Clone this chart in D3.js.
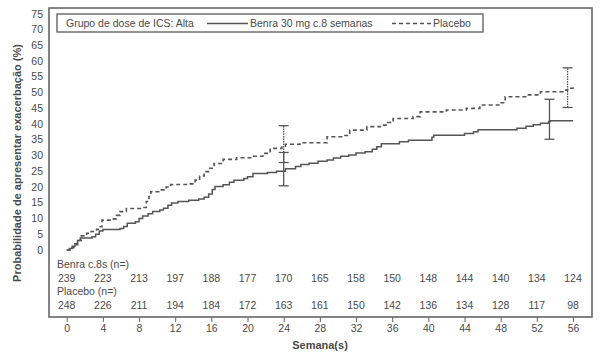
<!DOCTYPE html>
<html>
<head>
<meta charset="utf-8">
<style>
  body { margin: 0; background: #fff; }
  text { font-family: "Liberation Sans", Arial, sans-serif; fill: #4a4a4a; }
</style>
</head>
<body>
<div id="chart"></div>
<script src="https://cdn.jsdelivr.net/npm/d3@7"></script>
<script>

// Kaplan-Meier steps: [week, percent]
let benra_steps = [[0,0],[0.3,0.5],[0.6,1.2],[0.9,2],[1.2,3],[1.5,3.8],[2.8,4.2],[3.2,5],[3.6,6],[4,6.5],
  [5.9,6.8],[6.3,7.5],[6.7,8.5],[7.6,9],[8,10],[8.4,10.8],[9,11.5],[9.5,12.2],[10.3,12.7],[10.7,13.3],
  [11.2,14.2],[11.6,14.9],[12.3,15.4],[13.5,15.8],[14.6,16.2],[15.2,16.8],[15.7,17.8],[16.1,19.2],[16.4,20.2],
  [17.3,20.7],[18,21.5],[18.5,22.2],[19.6,22.7],[20,23.3],[20.6,24.3],[22.2,24.6],[23.2,25],[24.2,25.8],
  [25.3,26.5],[25.9,27.2],[26.8,27.6],[27.8,28.2],[28.8,28.6],[29.5,29.2],[30.3,29.8],[31.2,30.2],[32,30.8],
  [33,31.2],[33.8,32],[34.3,32.8],[34.8,33.8],[36.8,34.4],[37.8,34.9],[40.4,35.8],[40.6,36.5],[44,37],
  [45,37.6],[45.5,38.2],[49.8,38.7],[50.8,39.3],[51.6,39.8],[52.4,40.3],[53.3,40.8],[53.5,41.1],[56,41.1]];

let placebo_steps = [[0,0],[0.4,0.7],[0.8,1.7],[1.2,3],[1.6,4.5],[2.2,5.3],[2.7,5.9],[3.3,6.6],[3.7,7.4],
  [3.9,9.5],[5,9.9],[5.5,11],[5.9,12.2],[6.6,13.2],[8.4,13.5],[8.8,15.4],[9.1,17],[9.3,18.5],[10.3,19.1],
  [11,20],[11.5,20.8],[13.5,21],[14.2,22.2],[14.7,23.5],[15.2,24.9],[15.8,26],[16.3,27.5],[17.3,28.8],
  [18.8,29.3],[20.5,29.8],[21.7,30.7],[22.5,32.3],[23.8,33],[24.2,33.6],[25.8,34.1],[28.8,36],[30.6,36.4],
  [31.3,38.1],[33.2,39.2],[34.7,39.7],[35.5,40.5],[36.1,41.8],[38.3,42.4],[39.1,43.9],[42,44.5],[44.2,45],
  [45.7,46.1],[47.9,46.8],[48.5,48.7],[50.9,49.3],[52.4,50.3],[54.9,50.8],[55.4,51.4],[56,51.7]];

// confidence intervals: [week, low, high]
let benra_ci = [[24, 20.4, 31], [53.4, 35.2, 47.9]];
let placebo_ci = [[24, 27.8, 39.5], [55.4, 45.3, 57.9]];

// numbers at risk
let risk_weeks = d3.range(0, 57, 4);
let benra_risk = [239, 223, 213, 197, 188, 177, 170, 165, 158, 150, 148, 144, 140, 134, 124];
let placebo_risk = [248, 226, 211, 194, 184, 172, 163, 161, 150, 142, 136, 134, 128, 117, 98];

let y_ticks = d3.range(0, 76, 5);
let x_ticks = d3.range(0, 57, 4);

let width = 606, height = 354;
let frame = {left: 49, top: 8, right: 592, bottom: 317};
let fs = 10.5;

let svg = d3.select("#chart").append("svg")
  .attr("width", width).attr("height", height);

let x = d3.scaleLinear().domain([0, 56]).range([66.7, 573]);
let y = d3.scaleLinear().domain([0, 75]).range([250, 14]);

// frame
svg.append("rect")
  .attr("x", frame.left).attr("y", frame.top)
  .attr("width", frame.right - frame.left).attr("height", frame.bottom - frame.top)
  .attr("fill", "none").attr("stroke", "#666").attr("stroke-width", 1.6);

// y tick labels
svg.selectAll(".ylab").data(y_ticks).enter().append("text")
  .attr("x", 43).attr("y", d => y(d) + 3.5)
  .attr("text-anchor", "end").attr("font-size", fs)
  .text(d => d);

// x axis below frame
let x_axis = svg.append("g")
  .attr("transform", "translate(0," + frame.bottom + ")")
  .call(d3.axisBottom(x).tickValues(x_ticks).tickSize(5).tickPadding(3));
x_axis.select(".domain").remove();
x_axis.selectAll("line").attr("stroke", "#666");
x_axis.selectAll("text").attr("font-size", fs).attr("fill", "#4a4a4a")
  .attr("font-family", "Liberation Sans, Arial, sans-serif");

// axis titles
svg.append("text")
  .attr("x", 320).attr("y", 349).attr("text-anchor", "middle")
  .attr("font-size", 11).attr("font-weight", "bold").attr("fill", "#333")
  .text("Semana(s)");
svg.append("text")
  .attr("transform", "translate(21,163) rotate(-90)").attr("text-anchor", "middle")
  .attr("font-size", 11).attr("font-weight", "bold").attr("fill", "#333")
  .text("Probabilidade de apresentar exacerbação (%)");

// curves
let step_line = d3.line()
  .x(d => x(d[0])).y(d => y(d[1]))
  .curve(d3.curveStepAfter);

svg.append("path").datum(placebo_steps)
  .attr("d", step_line).attr("fill", "none")
  .attr("stroke", "#555").attr("stroke-width", 1.6)
  .attr("stroke-dasharray", "4,3");

svg.append("path").datum(benra_steps)
  .attr("d", step_line).attr("fill", "none")
  .attr("stroke", "#555").attr("stroke-width", 1.5);

// error bars
function draw_ci(data, dash) {
  let g = svg.append("g").attr("stroke", "#555").attr("stroke-width", 1.3);
  data.forEach(function(d) {
    g.append("line")
      .attr("x1", x(d[0])).attr("x2", x(d[0]))
      .attr("y1", y(d[1])).attr("y2", y(d[2]))
      .attr("stroke-dasharray", dash);
    [d[1], d[2]].forEach(function(v) {
      g.append("line")
        .attr("x1", x(d[0]) - 5).attr("x2", x(d[0]) + 5)
        .attr("y1", y(v)).attr("y2", y(v));
    });
  });
}
draw_ci(placebo_ci, "1.5,1");
draw_ci(benra_ci, null);

// numbers at risk
svg.append("text").attr("x", 57).attr("y", 268).attr("font-size", fs).text("Benra c.8s (n=)");
svg.append("text").attr("x", 57).attr("y", 295).attr("font-size", fs).text("Placebo (n=)");
svg.selectAll(".rb").data(benra_risk).enter().append("text")
  .attr("x", (d, i) => x(risk_weeks[i])).attr("y", 281.5)
  .attr("text-anchor", "middle").attr("font-size", fs).text(d => d);
svg.selectAll(".rp").data(placebo_risk).enter().append("text")
  .attr("x", (d, i) => x(risk_weeks[i])).attr("y", 308.5)
  .attr("text-anchor", "middle").attr("font-size", fs).text(d => d);

// legend
let legend = svg.append("g");
legend.append("rect")
  .attr("x", 57).attr("y", 14).attr("width", 426).attr("height", 18)
  .attr("fill", "#fff").attr("stroke", "#666").attr("stroke-width", 1.4);
legend.append("text").attr("x", 66).attr("y", 27).attr("font-size", fs)
  .text("Grupo de dose de ICS: Alta");
legend.append("line").attr("x1", 207).attr("x2", 248).attr("y1", 23.5).attr("y2", 23.5)
  .attr("stroke", "#555").attr("stroke-width", 1.5);
legend.append("text").attr("x", 250).attr("y", 27).attr("font-size", fs)
  .text("Benra 30 mg c.8 semanas");
legend.append("line").attr("x1", 392).attr("x2", 431).attr("y1", 23.5).attr("y2", 23.5)
  .attr("stroke", "#555").attr("stroke-width", 1.5).attr("stroke-dasharray", "4,3");
legend.append("text").attr("x", 433).attr("y", 27).attr("font-size", fs)
  .text("Placebo");

</script>
</body>
</html>
